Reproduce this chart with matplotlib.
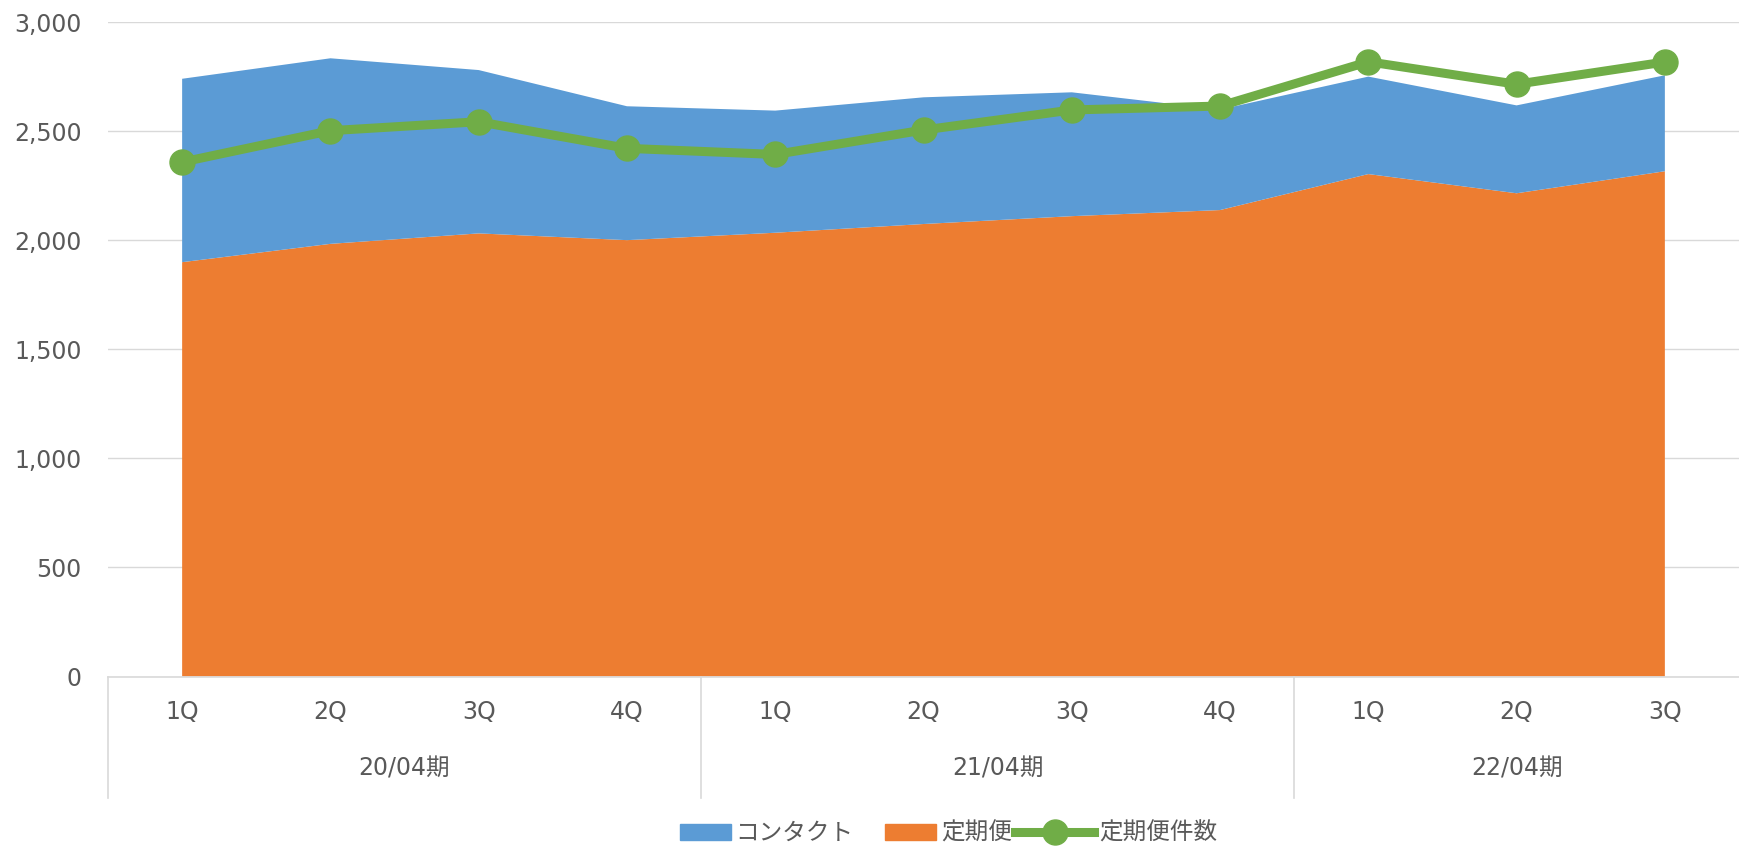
import numpy as np
import matplotlib
matplotlib.use("Agg")
from matplotlib import pyplot as plt
from matplotlib.patches import Patch
from matplotlib.lines import Line2D
from matplotlib.legend_handler import HandlerLine2D

plt.rcParams['font.family'] = ['DejaVu Sans', 'Noto Sans CJK JP']

quarters = ['1Q', '2Q', '3Q', '4Q', '1Q', '2Q', '3Q', '4Q', '1Q', '2Q', '3Q']
periods = ['20/04期', '21/04期', '22/04期']
period_len = [4, 4, 3]

teiki = [1900, 1984, 2032, 2001, 2035, 2075, 2111, 2139, 2304, 2216, 2317]
contact = [841, 851, 749, 614, 560, 581, 568, 461, 447, 403, 440]
teiki_count = [2359, 2503, 2544, 2422, 2394, 2506, 2598, 2616, 2819, 2716, 2818]

c_blue = '#5B9BD5'
c_orange = '#ED7D31'
c_green = '#70AD47'
c_grid = '#D9D9D9'
c_text = '#595959'
fs = 17


class WideLineHandler(HandlerLine2D):
    # stretch the line handle to the left, like Excel does
    def create_artists(self, legend, orig_handle, xdescent, ydescent, width,
                       height, fontsize, trans):
        extra = 1.2 * fontsize
        return super().create_artists(legend, orig_handle, xdescent + extra, ydescent,
                                      width + extra, height, fontsize, trans)


fig = plt.figure(figsize=(17.39, 8.5), dpi=100)
ax = fig.add_axes([108 / 1739, 1 - 676.5 / 850, 1 - 108 / 1739, (676.5 - 22.3) / 850])

x = np.arange(len(quarters))
ax.stackplot(x, teiki, contact, colors=[c_orange, c_blue], linewidth=0, zorder=2)
ax.plot(x, teiki_count, color=c_green, lw=6.5, marker='o', ms=18, zorder=3,
        solid_joinstyle='round')

ax.set_xlim(-0.5, len(quarters) - 0.5)
ax.set_ylim(0, 3000)
ax.set_yticks(np.arange(0, 3001, 500))
ax.set_yticklabels(['{:,}'.format(v) for v in range(0, 3001, 500)])
ax.yaxis.grid(True, color=c_grid, lw=1.0, zorder=0)
ax.set_axisbelow(True)
ax.tick_params(axis='y', length=0, pad=19, labelsize=fs, labelcolor=c_text)
ax.set_xticks([])
for s in ['left', 'right', 'top']:
    ax.spines[s].set_visible(False)
ax.spines['bottom'].set_color(c_grid)
ax.spines['bottom'].set_linewidth(1.2)

# two-level category labels
tr = ax.get_xaxis_transform()
for i, q in enumerate(quarters):
    ax.text(i, -0.054, q, transform=tr, ha='center', va='center',
            fontsize=fs, color=c_text)
pos = 0
bounds = [-0.5]
for p, n in zip(periods, period_len):
    ax.text(pos + (n - 1) / 2, -0.141, p, transform=tr, ha='center', va='center',
            fontsize=fs, color=c_text)
    pos += n
    bounds.append(pos - 0.5)
for b in bounds[:-1]:
    ax.add_line(Line2D([b, b], [0, -0.186], transform=tr, color=c_grid,
                       lw=1.2, clip_on=False))

green_handle = Line2D([], [], color=c_green, lw=6.5, marker='o', ms=18, label='定期便件数')
handles = [Patch(color=c_blue, label='コンタクト'),
           Patch(color=c_orange, label='定期便'),
           green_handle]
fig.legend(handles=handles, loc='center left', bbox_to_anchor=(668 / 1739, 1 - 833 / 850),
           ncol=3, frameon=False, fontsize=fs, labelcolor=c_text, borderpad=0,
           handlelength=2.15, handleheight=0.65, handletextpad=0.2, columnspacing=1.35,
           handler_map={green_handle: WideLineHandler()})

fig.savefig('out.png', dpi=100)
